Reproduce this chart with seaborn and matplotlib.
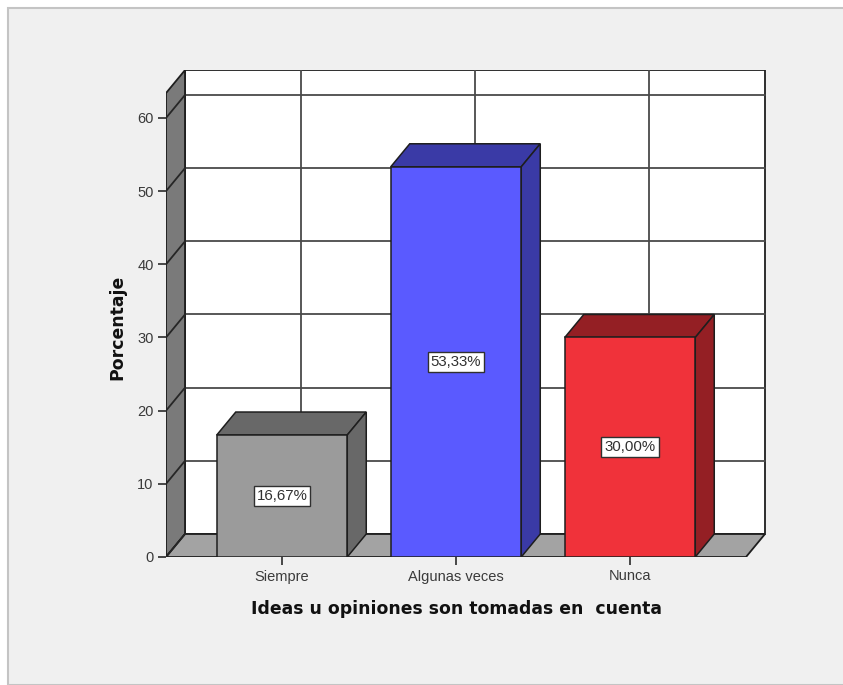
import matplotlib
matplotlib.use("Agg")
import matplotlib.pyplot as plt
from matplotlib.patches import Polygon, Rectangle
import seaborn as sns

# Data
categories = ["Siempre", "Algunas veces", "Nunca"]
percentages = [16.67, 53.33, 30.00]
front_colors = ["#9b9b9b", "#5a5aff", "#f0323a"]
shade_colors = ["#686868", "#3a3aa6", "#941f24"]
y_ticks = [0, 10, 20, 30, 40, 50, 60]
x_title = "Ideas u opiniones son tomadas en  cuenta"
y_title = "Porcentaje"

sns.set_theme(style="white")
plt.rcParams["font.family"] = ["Liberation Sans", "DejaVu Sans"]

W, H = 843, 685
fig = plt.figure(figsize=(W / 100, H / 100), dpi=100)
fig.patch.set_facecolor("white")

# light grey panel behind the chart
fig.patches.append(Rectangle((8 / W, 0), 1, 1 - 8 / H, transform=fig.transFigure,
                             facecolor="#f0f0f0", edgecolor="#c4c4c4", lw=1.5, zorder=-10))

# pixel geometry of the front plane
px_left, px_right_back, px_base, px_top = 166, 766, 557, 70
px_per_cat = 174.0
px_per_unit = 7.317
depth_px = (19, 23)

x_lo = -2 / 3
x_front_hi = 8 / 3
x_hi = x_lo + (px_right_back - px_left) / px_per_cat
y_hi = (px_base - px_top) / px_per_unit
ddx = depth_px[0] / px_per_cat
ddy = depth_px[1] / px_per_unit
wall_top = 63.4

ax = fig.add_axes([px_left / W, 1 - px_base / H,
                   (px_right_back - px_left) / W, (px_base - px_top) / H])
ax.set_facecolor("none")

edge = "#1e1e1e"
grid_c = "#4a4a4a"

# back wall
ax.add_patch(Polygon([(x_lo + ddx, ddy), (x_front_hi + ddx, ddy),
                      (x_front_hi + ddx, wall_top + ddy), (x_lo + ddx, wall_top + ddy)],
                     closed=True, facecolor="white", edgecolor=edge, lw=1.3, zorder=1))
# grid on back wall and left wall
for v in y_ticks:
    ax.plot([x_lo + ddx, x_front_hi + ddx], [v + ddy, v + ddy], color=grid_c, lw=1.3, zorder=2)
for i in range(len(categories)):
    ax.plot([i + ddx, i + ddx], [ddy, wall_top + ddy], color=grid_c, lw=1.3, zorder=2)

# left wall
ax.add_patch(Polygon([(x_lo, 0), (x_lo + ddx, ddy), (x_lo + ddx, wall_top + ddy), (x_lo, wall_top)],
                     closed=True, facecolor="#7a7a7a", edgecolor=edge, lw=1.3, zorder=3))
for v in y_ticks:
    ax.plot([x_lo, x_lo + ddx], [v, v + ddy], color="#262626", lw=1.3, zorder=3.5)

# floor
ax.add_patch(Polygon([(x_lo, 0), (x_front_hi, 0), (x_front_hi + ddx, ddy), (x_lo + ddx, ddy)],
                     closed=True, facecolor="#a3a3a3", edgecolor=edge, lw=1.3, zorder=3))

# front faces of the bars
sns.barplot(x=categories, y=percentages, hue=categories, palette=front_colors,
            width=0.75, legend=False, ax=ax, edgecolor=edge, linewidth=1.1,
            saturation=1, zorder=6)

bars = sorted([p for p in ax.patches if isinstance(p, Rectangle) and p.get_zorder() == 6],
              key=lambda p: p.get_x())
for bar, val, shade in zip(bars, percentages, shade_colors):
    x0, w = bar.get_x(), bar.get_width()
    ax.add_patch(Polygon([(x0, val), (x0 + ddx, val + ddy), (x0 + w + ddx, val + ddy), (x0 + w, val)],
                         closed=True, facecolor=shade, edgecolor=edge, lw=1.1, zorder=5))
    ax.add_patch(Polygon([(x0 + w, 0), (x0 + w, val), (x0 + w + ddx, val + ddy), (x0 + w + ddx, ddy)],
                         closed=True, facecolor=shade, edgecolor=edge, lw=1.1, zorder=5))
    ax.text(x0 + w / 2, val / 2, f"{val:.2f}%".replace(".", ","), ha="center", va="center",
            fontsize=10.8, color="#303030", zorder=8,
            bbox=dict(boxstyle="square,pad=0.2", facecolor="white", edgecolor="#303030", lw=1.0))

ax.set_xlim(x_lo, x_hi)
ax.set_ylim(0, y_hi)
for s in ax.spines.values():
    s.set_visible(False)
ax.set_yticks(y_ticks)
ax.set_yticklabels([str(t) for t in y_ticks])
ax.set_xticks(range(len(categories)))
ax.set_xticklabels(categories)
ax.tick_params(axis="both", direction="out", length=6, width=1.2, color="#2a2a2a",
               labelsize=10.5, labelcolor="#3a3a3a", pad=3,
               left=True, bottom=True)
ax.set_xlabel("")
ax.set_ylabel("")

fig.text(456 / W, 1 - 609 / H, x_title, ha="center", va="center",
         fontsize=12.4, fontweight="bold", color="#111111", family="DejaVu Sans")
fig.text(117 / W, 1 - 327 / H, y_title, ha="center", va="center", rotation=90,
         fontsize=12.4, fontweight="bold", color="#111111", family="DejaVu Sans")

fig.savefig("out.png", dpi=100, facecolor=fig.get_facecolor())
